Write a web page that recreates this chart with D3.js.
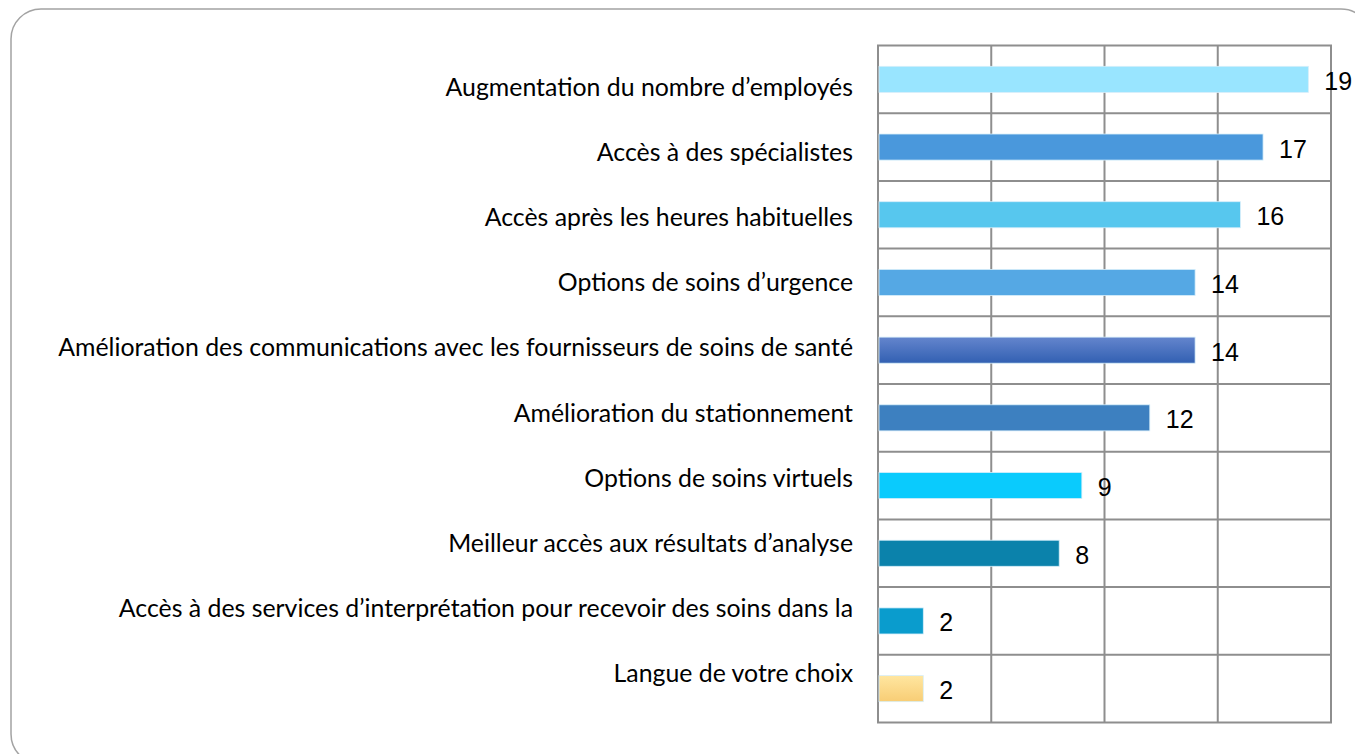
<!DOCTYPE html>
<html>
<head>
<meta charset="utf-8">
<script src="https://cdn.jsdelivr.net/npm/d3@7"></script>
<style>
  html, body { margin: 0; padding: 0; background: #fff; }
  svg { display: block; }
  .cat-label { font-family: Lato, "Open Sans", sans-serif; fill: #000; }
  .val-label { font-family: "Liberation Sans", Arial, sans-serif; font-size: 25px; fill: #000; }
</style>
</head>
<body>
<svg id="chart"></svg>
<script>
// categories, top to bottom
const categories = [
  "Augmentation du nombre d\u2019employés",
  "Accès à des spécialistes",
  "Accès après les heures habituelles",
  "Options de soins d\u2019urgence",
  "Amélioration des communications avec les fournisseurs de soins de santé",
  "Amélioration du stationnement",
  "Options de soins virtuels",
  "Meilleur accès aux résultats d\u2019analyse",
  "Accès à des services d\u2019interprétation pour recevoir des soins dans la",
  "Langue de votre choix"
];
const values = [19, 17, 16, 14, 14, 12, 9, 8, 2, 2];
const barColors = ["#99e5ff", "#4a98dc", "#57c7ee", "#55a8e4", "url(#gradBlue)",
                   "#3d80c0", "#0acbfd", "#0b82ab", "#0a9ccd", "url(#gradYellow)"];
const xTicks = [0, 5, 10, 15, 20];

const width = 1355, height = 754;
const plot = {left: 878, right: 1331, top: 45.5, bottom: 722.5};

const svg = d3.select("#chart")
    .attr("width", width)
    .attr("height", height);

// gradients used by two of the bars
const defs = svg.append("defs");
function addGradient(id, top, bottom) {
  const g = defs.append("linearGradient")
      .attr("id", id)
      .attr("x1", 0).attr("y1", 0).attr("x2", 0).attr("y2", 1);
  g.append("stop").attr("offset", "0%").attr("stop-color", top);
  g.append("stop").attr("offset", "100%").attr("stop-color", bottom);
}
addGradient("gradBlue", "#6485cd", "#3260b2");
addGradient("gradYellow", "#ffe6a0", "#f8cd75");

// outer rounded frame
svg.append("rect")
    .attr("x", 11).attr("y", 9)
    .attr("width", 1360).attr("height", 755)
    .attr("rx", 30).attr("ry", 30)
    .attr("fill", "none")
    .attr("stroke", "#a3a3a3")
    .attr("stroke-width", 1.5);

// scales
const xScale = d3.scaleLinear()
    .domain([0, 20])
    .range([plot.left, plot.right]);

const yScale = d3.scaleBand()
    .domain(categories)
    .range([plot.top, plot.bottom])
    .paddingInner(0.615)
    .paddingOuter(0.3075);

// the category text sits on its own slightly tighter spacing
const labelScale = d3.scalePoint()
    .domain(categories)
    .range([86, 672]);

// grid
const grid = svg.append("g").attr("class", "grid");
grid.selectAll(".vline")
    .data(xTicks)
    .join("line")
    .attr("class", "vline")
    .attr("x1", d => xScale(d)).attr("x2", d => xScale(d))
    .attr("y1", plot.top).attr("y2", plot.bottom)
    .attr("stroke", "#8e8e8e")
    .attr("stroke-width", 2);

const rowEdges = categories.map(c => yScale(c) - yScale.step() * yScale.paddingInner() / 2)
    .concat([plot.bottom]);
grid.selectAll(".hline")
    .data(rowEdges)
    .join("line")
    .attr("class", "hline")
    .attr("x1", plot.left - 1).attr("x2", plot.right + 1)
    .attr("y1", d => d).attr("y2", d => d)
    .attr("stroke", "#8e8e8e")
    .attr("stroke-width", 2);

// bars
svg.append("g")
  .selectAll("rect")
  .data(values)
  .join("rect")
    .attr("x", xScale(0) + 1)
    .attr("y", (d, i) => yScale(categories[i]))
    .attr("width", d => xScale(d) - xScale(0) - 1)
    .attr("height", yScale.bandwidth())
    .attr("fill", (d, i) => barColors[i])
    .attr("stroke", "#d6eefa")
    .attr("stroke-width", 0.8);

// value labels
svg.append("g")
  .selectAll("text")
  .data(values)
  .join("text")
    .attr("class", "val-label")
    .attr("x", d => xScale(d) + 16)
    .attr("y", (d, i) => yScale(categories[i]) + yScale.bandwidth() / 2 + 1.5)
    .attr("dominant-baseline", "central")
    .text(d => d);

// category labels
const catG = svg.append("g");
const cats = catG.selectAll("text")
  .data(categories)
  .join("text")
    .attr("class", "cat-label")
    .attr("x", 853)
    .attr("y", d => labelScale(d))
    .attr("text-anchor", "end")
    .attr("dominant-baseline", "central")
    .style("font-size", "24px")
    .text(d => d);

// fit the font size so the longest label spans like the original
const longest = cats.filter((d, i) => i === 4).node();
const w = longest.getComputedTextLength();
const fitted = 24 * 795 / w;
cats.style("font-size", fitted.toFixed(2) + "px");
</script>
</body>
</html>
